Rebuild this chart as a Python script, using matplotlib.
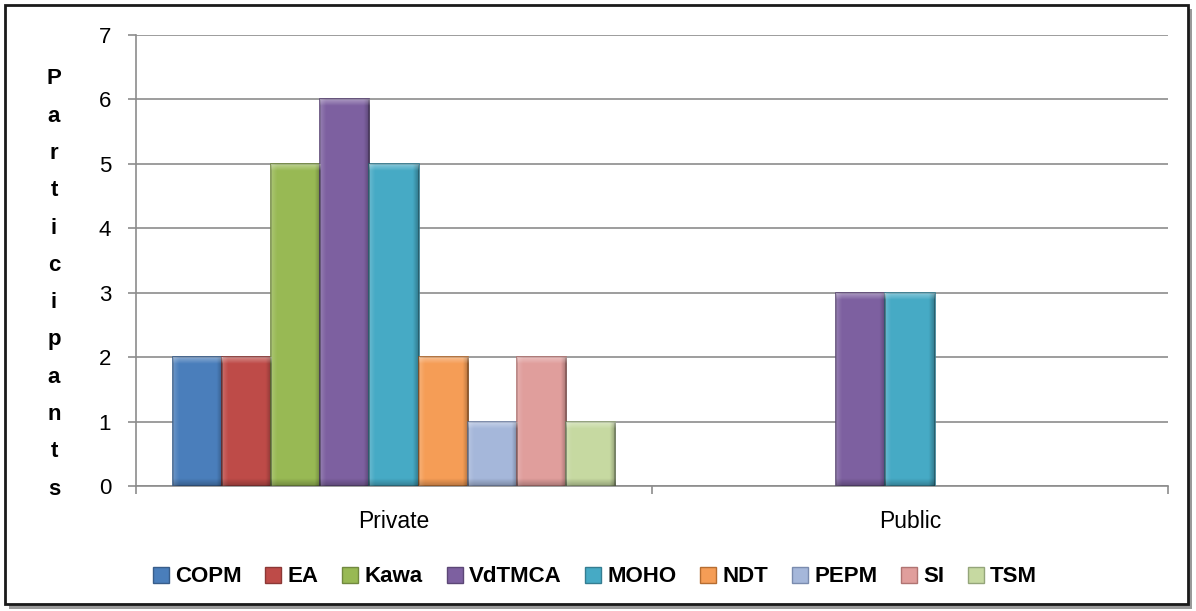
import matplotlib
matplotlib.use("Agg")
import matplotlib.pyplot as plt
from matplotlib.patches import Rectangle
import numpy as np

categories = ["Private", "Public"]
series_names = ["COPM", "EA", "Kawa", "VdTMCA", "MOHO", "NDT", "PEPM", "SI", "TSM"]
private_vals = [2, 2, 5, 6, 5, 2, 1, 2, 1]
public_vals = [0, 0, 0, 3, 3, 0, 0, 0, 0]
y_ticks = [0, 1, 2, 3, 4, 5, 6, 7]
y_label = "Participants"

colors = ["#4A7EBB", "#BE4B48", "#98B954", "#7D60A0", "#46AAC5",
          "#F59D56", "#A5B7DA", "#E09E9C", "#C6D9A1"]
edges = ["#385D8A", "#8C3836", "#71893F", "#5C4776", "#357D91",
         "#B66D31", "#7A8BAE", "#B07472", "#94A57A"]

plt.rcParams['font.family'] = ['Liberation Sans', 'DejaVu Sans']

fig = plt.figure(figsize=(11.96, 6.11), dpi=100)
W, H = 1196, 611

# outer frame with shadow
fig.patches.append(Rectangle((9 / W, 1 - 609 / H), 1183 / W, 600 / H,
                             transform=fig.transFigure, facecolor="#9a9a9a",
                             edgecolor="none", zorder=0))
fig.patches.append(Rectangle((5 / W, 1 - 604 / H), 1183 / W, 599 / H,
                             transform=fig.transFigure, facecolor="white",
                             edgecolor="#1a1a1a", linewidth=2, zorder=1))

ax = fig.add_axes([136 / W, 1 - 486 / H, (1168 - 136) / W, (486 - 35) / H])
ax.set_zorder(2)
ax.patch.set_alpha(0)

# bevel shading overlays (decorative)
nx = 64
prof = np.linspace(0, 1, nx)
shade = np.zeros((1, nx, 4))
left = prof < 0.12
right = prof > 0.88
shade[0, left, :3] = 1.0
shade[0, left, 3] = 0.18 * (1 - prof[left] / 0.12)
shade[0, right, :3] = 0.0
shade[0, right, 3] = 0.28 * ((prof[right] - 0.88) / 0.12)
ny = 16
topg = np.zeros((ny, 1, 4))
topg[:, 0, :3] = 1.0
topg[:, 0, 3] = np.linspace(0.35, 0.0, ny)
botg = np.zeros((ny, 1, 4))
botg[:, 0, 3] = np.linspace(0.0, 0.25, ny)

n = len(series_names)
w = 1.0 / (n + 1.5)
x = np.arange(len(categories))
data = [[private_vals[j], public_vals[j]] for j in range(n)]
band = 7 / 451 * 7  # ~7 px in data units
for j in range(n):
    vals = np.array(data[j], dtype=float)
    mask = vals > 0
    bars = ax.bar(x[mask] + (j - (n - 1) / 2) * w, vals[mask], width=w,
                  color=colors[j], edgecolor=edges[j], linewidth=1.2, zorder=3,
                  label=series_names[j])
    for b in bars:
        x0, y0, bw, bh = b.get_x(), b.get_y(), b.get_width(), b.get_height()
        for img, ext in [(shade, [x0, x0 + bw, y0, y0 + bh]),
                         (topg, [x0, x0 + bw, y0 + bh - band, y0 + bh]),
                         (botg, [x0, x0 + bw, y0, y0 + band])]:
            im = ax.imshow(img, extent=ext, origin="upper", aspect="auto",
                           interpolation="bilinear", zorder=3.5)
            im.set_clip_path(b)

handles = [Rectangle((0, 0), 1, 1, facecolor=colors[j], edgecolor=edges[j], linewidth=1)
           for j in range(n)]

ax.set_xlim(-0.5, 1.5)
ax.set_ylim(0, 7)
ax.set_yticks(y_ticks)
ax.set_yticklabels([str(v) for v in y_ticks], fontsize=16)
ax.yaxis.grid(True, color="#8c8c8c", linewidth=1.2, zorder=1)
ax.set_axisbelow(True)
ax.set_xticks(x)
ax.set_xticklabels(categories, fontsize=16.5)
ax.set_xticks([-0.5, 0.5, 1.5], minor=True)
ax.tick_params(axis="x", which="major", length=0, pad=17)
ax.tick_params(axis="x", which="minor", length=6, color="#8c8c8c", width=1.2)
ax.tick_params(axis="y", length=6, color="#8c8c8c", width=1.2, pad=12)
for s in ["top", "right"]:
    ax.spines[s].set_visible(False)
for s in ["left", "bottom"]:
    ax.spines[s].set_color("#8c8c8c")
    ax.spines[s].set_linewidth(1.2)

fig.text(54 / W, 1 - 284 / H, "\n".join(y_label), ha="center", va="center",
         fontsize=16, fontweight="bold", linespacing=2.02)

fig.legend(handles, series_names, loc="center", bbox_to_anchor=(595 / W, 1 - 577 / H),
           ncol=n, frameon=False, handlelength=0.72, handleheight=0.72,
           handletextpad=0.27, columnspacing=1.08, prop={"weight": "bold", "size": 16})

fig.savefig("out.png", dpi=100)
